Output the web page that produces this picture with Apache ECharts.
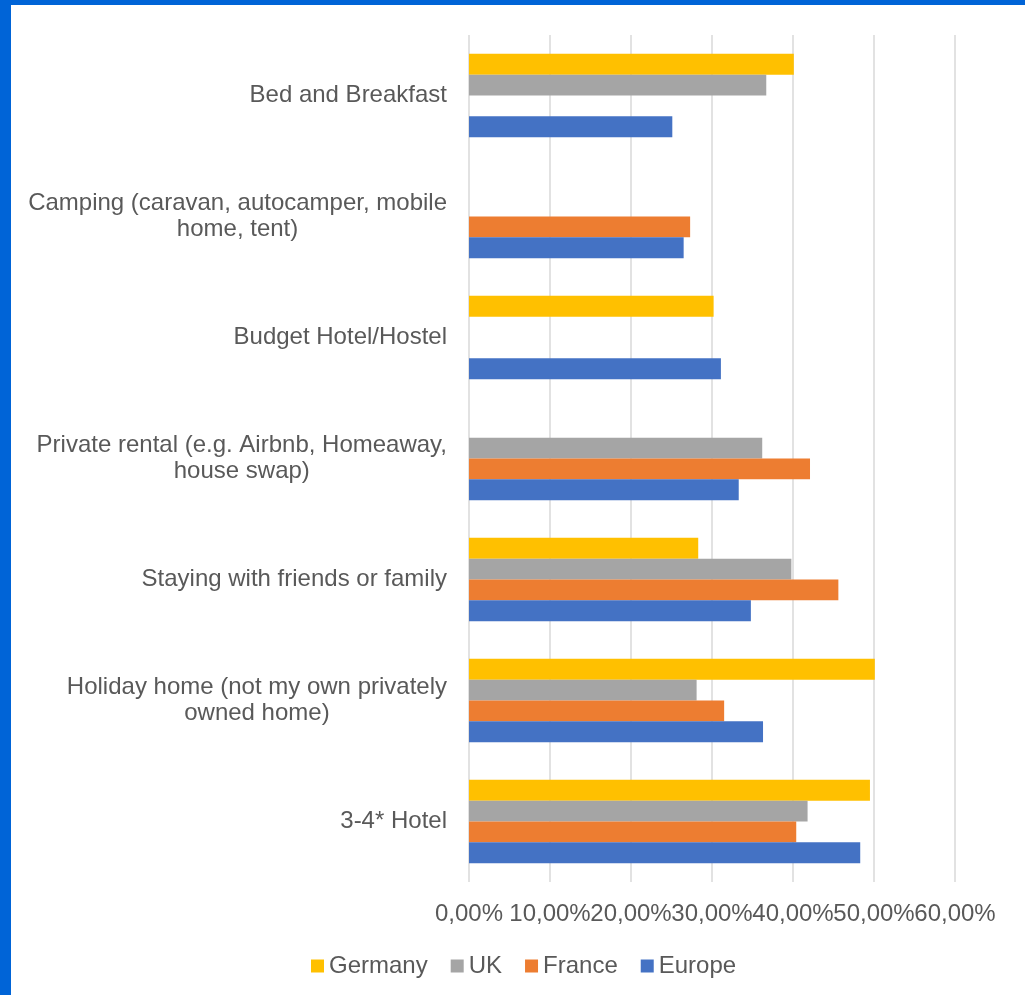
<!DOCTYPE html>
<html>
<head>
<meta charset="utf-8">
<script src="https://cdn.jsdelivr.net/npm/echarts@6/dist/echarts.min.js"></script>
<style>
  html, body { margin: 0; padding: 0; background: #ffffff; }
  #wrap { position: relative; width: 1025px; height: 995px; overflow: hidden; }
  #chart { position: absolute; left: 0; top: 0; width: 1025px; height: 995px; }
  .edge { position: absolute; background: #0064d7; }
</style>
</head>
<body>
<div id="wrap">
  <div id="chart"></div>
  <div class="edge" style="left:0;top:0;width:11px;height:995px;"></div>
  <div class="edge" style="left:0;top:0;width:1025px;height:5px;"></div>
</div>
<script>
// Accommodation types, listed bottom to top as drawn on the category axis
const categories = [
  '3-4* Hotel',
  'Holiday home (not my own privately\nowned home)',
  'Staying with friends or family',
  'Private rental (e.g. Airbnb, Homeaway,\nhouse swap)',
  'Budget Hotel/Hostel',
  'Camping (caravan, autocamper, mobile\nhome, tent)',
  'Bed and Breakfast'
];

// Share of respondents (%) per accommodation type; null = no bar
const germany = [49.5, 50.1, 28.3, null, 30.2, null, 40.1];
const uk      = [41.8, 28.1, 39.8, 36.2, null, null, 36.7];
const france  = [40.4, 31.5, 45.6, 42.1, null, 27.3, null];
const europe  = [48.3, 36.3, 34.8, 33.3, 31.1, 26.5, 25.1];

const xTicks = { min: 0, max: 60, interval: 10 };
const legendOrder = ['Germany', 'UK', 'France', 'Europe'];

const colors = {
  Germany: '#ffc000',
  UK: '#a5a5a5',
  France: '#ed7d31',
  Europe: '#4472c4'
};

const textColor = '#595959';
const fontFamily = '"Liberation Sans", Arial, sans-serif';
const fontSize = 24;

const pct = v => v.toFixed(2).replace('.', ',') + '%';

function barSeries(name, data) {
  return {
    name: name,
    type: 'bar',
    data: data,
    barGap: '0%',
    barCategoryGap: '31%',
    itemStyle: { color: colors[name] }
  };
}

// The tick labels are packed edge to edge, so the last one sits on a twin
// axis to keep the overlap check from dropping any of them.
function valueAxis(isMain) {
  return {
    type: 'value',
    position: 'bottom',
    min: xTicks.min,
    max: xTicks.max,
    interval: xTicks.interval,
    axisLine: { show: false },
    axisTick: { show: false },
    splitLine: { show: isMain, lineStyle: { color: '#d9d9d9', width: 1.5 } },
    axisLabel: {
      color: textColor,
      fontSize: fontSize,
      fontFamily: fontFamily,
      margin: 20,
      showMinLabel: true,
      showMaxLabel: true,
      formatter: v => (isMain ? v !== xTicks.max : v === xTicks.max) ? pct(v) : ''
    }
  };
}

const chart = echarts.init(document.getElementById('chart'), null, { renderer: 'canvas' });

chart.setOption({
  animation: false,
  textStyle: { fontFamily: fontFamily },
  grid: { left: 469, right: 70, top: 35, bottom: 113, containLabel: false },
  legend: {
    data: legendOrder,
    left: 306,
    bottom: 12,
    itemWidth: 13,
    itemHeight: 13,
    itemGap: 23,
    icon: 'rect',
    textStyle: { color: textColor, fontSize: fontSize, fontFamily: fontFamily }
  },
  xAxis: [valueAxis(true), valueAxis(false)],
  yAxis: {
    type: 'category',
    data: categories,
    axisLine: { show: false },
    axisTick: { show: false },
    axisLabel: {
      margin: 22,
      align: 'right',
      formatter: v => v.split('\n').map(l => '{c|' + l + '}').join('\n'),
      rich: {
        c: {
          align: 'center',
          color: textColor,
          fontSize: fontSize,
          fontFamily: fontFamily,
          lineHeight: 26
        }
      }
    }
  },
  // Series order runs top to bottom within each category band
  series: [
    barSeries('Germany', germany),
    barSeries('UK', uk),
    barSeries('France', france),
    barSeries('Europe', europe)
  ]
});
</script>
</body>
</html>
